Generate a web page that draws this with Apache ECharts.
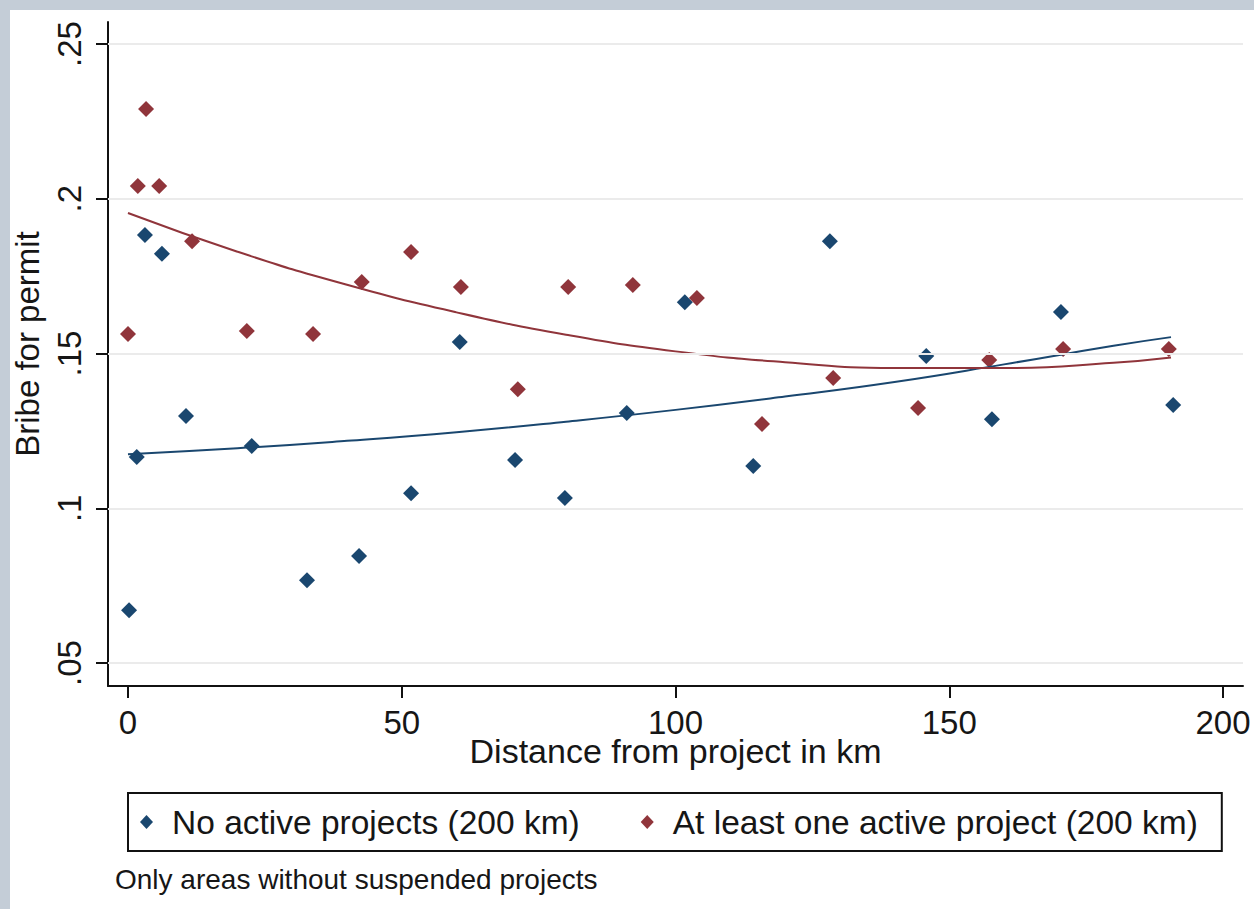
<!DOCTYPE html>
<html>
<head>
<meta charset="utf-8">
<script src="https://cdn.jsdelivr.net/npm/echarts@6/dist/echarts.min.js"></script>
<style>
  html, body { margin: 0; padding: 0; background: #c4cdd7; width: 1254px; height: 909px; overflow: hidden; }
  #chart { position: absolute; left: 10px; top: 10px; width: 1244px; height: 899px; background: #ffffff; }
</style>
</head>
<body>
<div id="chart"></div>
<script>
// ---- data ----
const seriesNames = ['No active projects (200 km)', 'At least one active project (200 km)'];

const noActiveX = [0.2, 1.6, 3.1, 6.2, 10.6, 22.6, 32.7, 42.2, 51.7, 60.6, 70.7, 79.8, 91.1, 101.7, 114.2, 128.2, 145.8, 157.8, 170.4, 190.9];
const noActiveY = [0.0671, 0.1166, 0.1883, 0.1822, 0.1298, 0.1201, 0.0768, 0.0846, 0.1049, 0.1537, 0.1156, 0.1033, 0.1308, 0.1666, 0.1137, 0.1863, 0.1492, 0.1288, 0.1634, 0.1334];

const activeX = [0.0, 1.8, 3.3, 5.7, 11.7, 21.7, 33.8, 42.7, 51.7, 60.8, 71.2, 80.4, 92.2, 103.9, 115.8, 128.8, 144.3, 157.3, 170.8, 190.1];
const activeY = [0.1563, 0.2041, 0.2290, 0.2041, 0.1863, 0.1573, 0.1563, 0.1731, 0.1828, 0.1715, 0.1385, 0.1715, 0.1721, 0.1679, 0.1272, 0.1421, 0.1324, 0.1479, 0.1515, 0.1515];

// fitted curves
const fitX = [0, 20, 40, 60, 80, 100, 120, 140, 160, 180, 190.5];
const noActiveFitY = [0.1175, 0.1194, 0.1218, 0.1246, 0.1280, 0.1318, 0.1361, 0.1408, 0.1465, 0.1525, 0.1553];
const activeFitY = [0.1954, 0.1829, 0.1722, 0.1633, 0.1561, 0.1507, 0.1472, 0.1453, 0.1453, 0.1470, 0.1487];

const xTicks = [0, 50, 100, 150, 200];
const xTickLabels = ['0', '50', '100', '150', '200'];
const yTicks = [0.05, 0.1, 0.15, 0.2, 0.25];
const yTickLabels = ['.05', '.1', '.15', '.2', '.25'];

const xTitle = 'Distance from project in km';
const yTitle = 'Bribe for permit';
const note = 'Only areas without suspended projects';

// ---- chart ----
const FONT = "'Liberation Sans', Arial, sans-serif";
const NAVY = '#1a476f';
const MAROON = '#90353b';
const TXT = '#161616';

function lookup(ticks, labels, v) {
  for (let i = 0; i < ticks.length; i++) {
    if (Math.abs(ticks[i] - v) < 1e-9) return labels[i];
  }
  return '';
}
function pairs(xs, ys) { return xs.map((x, i) => [x, ys[i]]); }

const chart = echarts.init(document.getElementById('chart'), null, { renderer: 'svg' });
chart.setOption({
  animation: false,
  backgroundColor: '#ffffff',
  textStyle: { fontFamily: FONT },
  grid: { left: 98, right: 11, top: 12, bottom: 223, containLabel: false, outerBoundsMode: 'none' },
  xAxis: {
    type: 'value', min: -3.65, max: 203.65,
    axisLine: { show: true, onZero: false, lineStyle: { color: '#111', width: 2 } },
    axisTick: { show: true, customValues: xTicks, length: 12, lineStyle: { color: '#111', width: 2 } },
    axisLabel: {
      customValues: xTicks, fontSize: 33, lineHeight: 26, color: TXT, margin: 23, fontFamily: FONT,
      formatter: v => lookup(xTicks, xTickLabels, v)
    },
    splitLine: { show: false },
    name: xTitle, nameLocation: 'middle', nameGap: 51, nameMoveOverlap: false,
    nameTextStyle: { fontSize: 34, lineHeight: 27, color: TXT, fontFamily: FONT }
  },
  yAxis: {
    type: 'value', min: 0.0426, max: 0.2571,
    axisLine: { show: true, onZero: false, lineStyle: { color: '#111', width: 2 } },
    axisTick: { show: true, customValues: yTicks, length: 12, lineStyle: { color: '#111', width: 2 } },
    axisLabel: {
      customValues: yTicks, fontSize: 33, color: TXT, margin: 22, rotate: 90, fontFamily: FONT,
      formatter: v => lookup(yTicks, yTickLabels, v)
    },
    splitLine: { show: false },
    name: yTitle, nameLocation: 'middle', nameGap: 64, nameMoveOverlap: false,
    nameTextStyle: { fontSize: 33, color: TXT, fontFamily: FONT, padding: [0, 0, 0, 20] }
  },
  legend: {
    left: 118, top: 783,
    orient: 'horizontal',
    data: [{ name: seriesNames[0], icon: 'diamond' }, { name: seriesNames[1], icon: 'diamond' }],
    itemWidth: 13, itemHeight: 14, itemGap: 61,
    padding: [12, 24, 12, 12],
    borderColor: '#111', borderWidth: 2, borderRadius: 0,
    backgroundColor: '#ffffff',
    textStyle: { fontSize: 33.5, color: TXT, fontFamily: FONT, padding: [0, 0, 0, 14] },
    selectedMode: false
  },
  graphic: [{
    type: 'text', left: 105, top: 855,
    style: { text: note, fontSize: 28, fill: TXT, fontFamily: FONT }
  }],
  series: [
    {
      name: 'grid', type: 'line', data: [], z: 1, silent: true,
      markLine: {
        silent: true, symbol: 'none', label: { show: false },
        lineStyle: { color: '#ebebeb', width: 2, type: 'solid' },
        data: yTicks.map(v => ({ yAxis: v }))
      }
    },
    {
      name: seriesNames[0], type: 'scatter', symbol: 'diamond', symbolSize: 16, z: 3,
      itemStyle: { color: NAVY, opacity: 1 },
      data: pairs(noActiveX, noActiveY)
    },
    {
      name: seriesNames[1], type: 'scatter', symbol: 'diamond', symbolSize: 16, z: 3,
      itemStyle: { color: MAROON, opacity: 1 },
      data: pairs(activeX, activeY)
    },
    {
      name: 'fit1', type: 'line', smooth: true, showSymbol: false, z: 4,
      lineStyle: { color: NAVY, width: 2 },
      data: pairs(fitX, noActiveFitY)
    },
    {
      name: 'fit2', type: 'line', smooth: true, showSymbol: false, z: 4,
      lineStyle: { color: MAROON, width: 2 },
      data: pairs(fitX, activeFitY)
    }
  ]
});
</script>
</body>
</html>
